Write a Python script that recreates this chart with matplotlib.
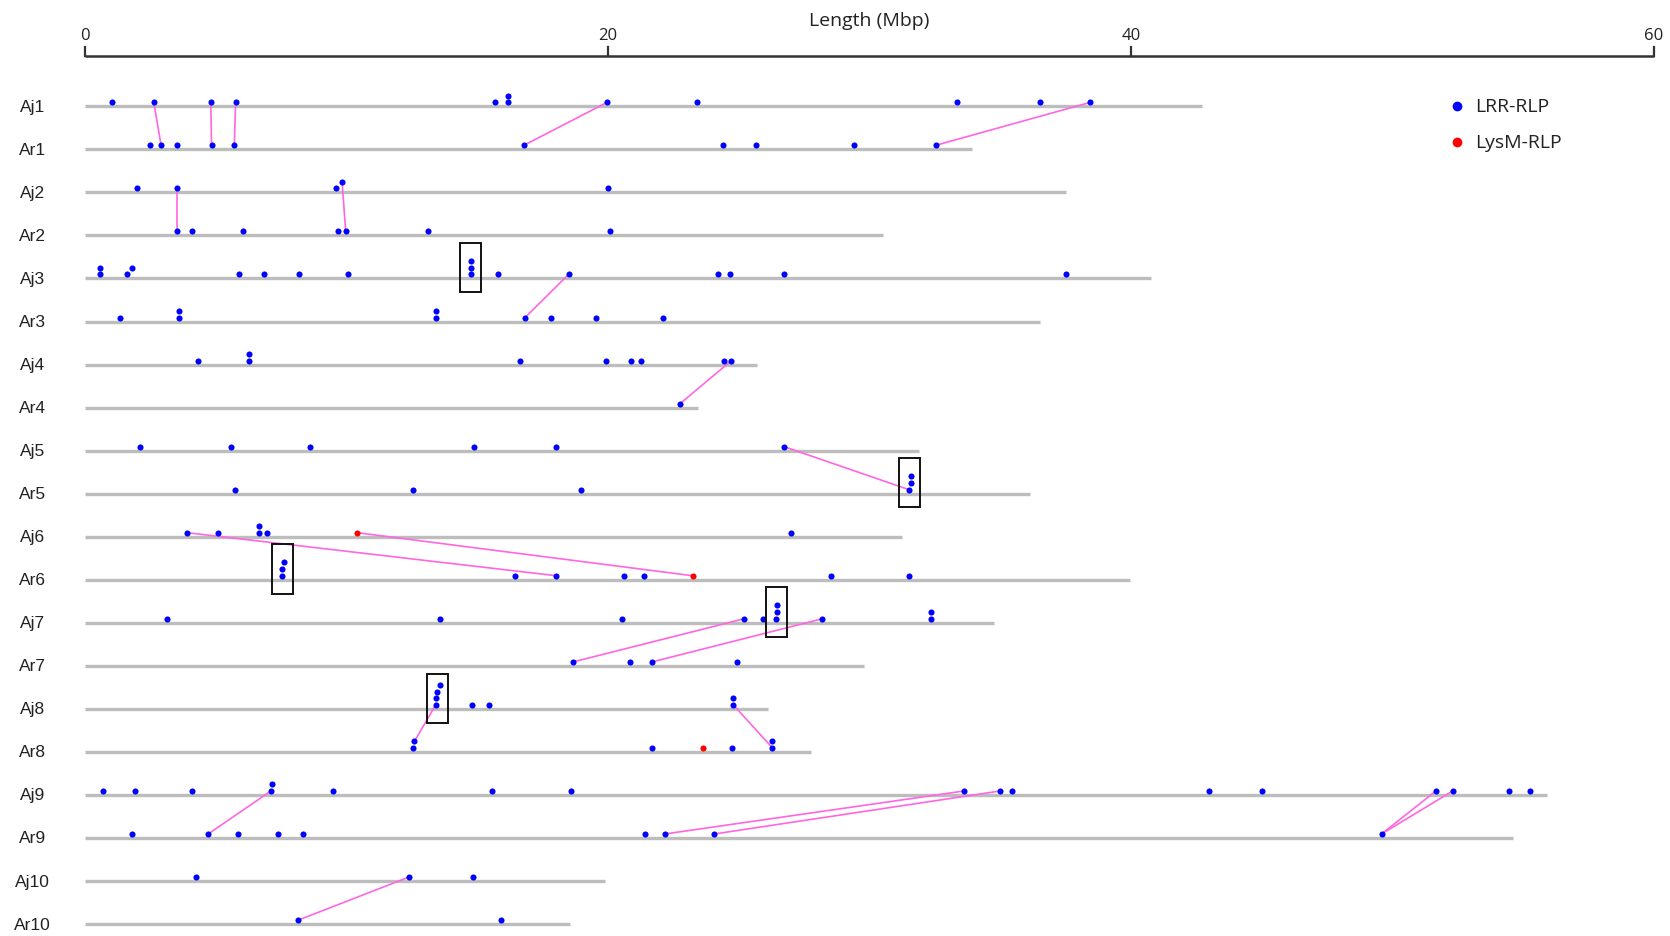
import matplotlib
matplotlib.use("Agg")
import matplotlib.pyplot as plt
from matplotlib.patches import Rectangle

# chromosome names and lengths (Mbp)
names = ["Aj1", "Ar1", "Aj2", "Ar2", "Aj3", "Ar3", "Aj4", "Ar4", "Aj5", "Ar5",
         "Aj6", "Ar6", "Aj7", "Ar7", "Aj8", "Ar8", "Aj9", "Ar9", "Aj10", "Ar10"]
lengths = [42.7, 33.9, 37.5, 30.5, 40.75, 36.5, 25.7, 23.45, 31.9, 36.15,
           31.25, 39.95, 34.75, 29.8, 26.1, 27.75, 55.9, 54.6, 19.9, 18.55]

# LRR-RLP gene positions (Mbp); repeated / very close values are stacked
aj1 = [1.03, 2.63, 4.81, 5.76, 15.66, 16.17, 16.17, 19.97, 23.4, 33.34, 36.5, 38.45]
ar1 = [2.47, 2.91, 3.50, 4.84, 5.71, 16.78, 24.38, 25.64, 29.42, 32.53]
aj2 = [1.99, 3.50, 9.6, 9.83, 20.01]
ar2 = [3.50, 4.08, 6.04, 9.66, 9.97, 13.10, 20.08]
aj3 = [0.59, 0.59, 1.59, 1.79, 5.90, 6.86, 8.17, 10.04, 14.75, 14.75, 14.75,
       15.79, 18.49, 24.2, 24.68, 26.72, 37.5]
ar3 = [1.34, 3.59, 3.59, 13.44, 13.44, 16.83, 17.81, 19.53, 22.11]
aj4 = [4.34, 6.28, 6.28, 16.63, 19.91, 20.89, 21.27, 24.43, 24.72]
ar4 = [22.76]
aj5 = [2.09, 5.60, 8.61, 14.87, 18.03, 26.73]
ar5 = [5.74, 12.56, 18.95, 31.51, 31.57, 31.57]
aj6 = [3.91, 5.08, 6.65, 6.65, 6.96, 26.98]
ar6 = [7.54, 7.54, 7.62, 16.45, 18.03, 20.6, 21.37, 28.51, 31.5]
aj7 = [3.13, 13.58, 20.53, 25.2, 25.93, 26.42, 26.48, 26.48, 28.19, 32.36, 32.36]
ar7 = [18.68, 20.84, 21.7, 24.95]
aj8 = [13.41, 13.44, 13.47, 13.58, 14.8, 15.45, 24.79, 24.79]
ar8 = [12.56, 12.6, 21.67, 24.74, 26.29, 26.29]
aj9 = [0.69, 1.93, 4.10, 7.11, 7.17, 9.48, 15.56, 18.6, 33.62, 35.0, 35.45,
       42.99, 44.99, 51.66, 52.3, 54.47, 55.25]
ar9 = [1.78, 4.71, 5.87, 7.37, 8.33, 21.41, 22.17, 24.06, 49.58]
aj10 = [4.24, 12.39, 14.82]
ar10 = [8.16, 15.89]
lrr_sites = [aj1, ar1, aj2, ar2, aj3, ar3, aj4, ar4, aj5, ar5,
             aj6, ar6, aj7, ar7, aj8, ar8, aj9, ar9, aj10, ar10]

# LysM-RLP genes
lysm_chrom = ["Aj6", "Ar6", "Ar8"]
lysm_pos = [10.41, 23.24, 23.63]

# syntenic links between Aj<n> and Ar<n>
link_chr = [1, 1, 1, 1, 1, 2, 2, 3, 4, 5, 6, 6, 7, 7, 8, 8, 9, 9, 9, 9, 9, 10]
link_aj = [2.63, 4.81, 5.76, 19.97, 38.45, 3.50, 9.83, 18.49, 24.72, 26.73,
           3.91, 10.41, 25.2, 28.19, 13.41, 24.79, 7.11, 33.62, 35.0, 51.66, 52.3, 12.39]
link_ar = [2.91, 4.84, 5.71, 16.78, 32.53, 3.50, 9.97, 16.83, 22.76, 31.51,
           18.03, 23.24, 18.68, 21.7, 12.6, 26.29, 4.71, 22.17, 24.06, 49.58, 49.58, 8.16]

# clusters highlighted with a box
box_chrom = ["Aj3", "Ar5", "Ar6", "Aj7", "Aj8"]
box_pos = [14.75, 31.54, 7.57, 26.45, 13.48]

ticks = [0, 20, 40, 60]

fig = plt.figure(figsize=(16.7, 9.37), dpi=100)
ax = fig.add_axes([0, 0, 1, 1])
ax.set_xlim(-3.25, 60.61)
ax.set_ylim(19.277, -2.493)
ax.axis("off")

row = {n: i for i, n in enumerate(names)}
dot_lift = 0.093
stack_step = 0.155

# chromosome bars and labels
for i, (n, L) in enumerate(zip(names, lengths)):
    ax.plot([0, L], [i, i], color="#bdbdbd", lw=2.4, solid_capstyle="butt", zorder=1)
    ax.text(-2.0, i, n, ha="center", va="center", fontsize=12.5,
            family="Liberation Sans", color="#222222")

# LRR dots, stacked when close together
dot_y = {}
for i, (n, sites) in enumerate(zip(names, lrr_sites)):
    prev = None
    level = 0
    xs, ys = [], []
    for p in sorted(sites):
        if prev is not None and p - prev <= 0.24:
            level += 1
        else:
            level = 0
        y = i - dot_lift - stack_step * level
        dot_y.setdefault((n, p), y)
        xs.append(p)
        ys.append(y)
        prev = p
    ax.plot(xs, ys, "o", color="#0000ff", ms=4.4, mew=0, zorder=4)

for n, p in zip(lysm_chrom, lysm_pos):
    y = row[n] - dot_lift
    dot_y[(n, p)] = y
    ax.plot(p, y, "o", color="#ff0000", ms=4.4, mew=0, zorder=4)

# links
for c, a, r in zip(link_chr, link_aj, link_ar):
    ka, kr = ("Aj%d" % c, a), ("Ar%d" % c, r)
    ax.plot([a, r], [dot_y[ka], dot_y[kr]], color="#ff66e0", lw=1.2, zorder=3)

# boxes around tandem clusters
for n, p in zip(box_chrom, box_pos):
    i = row[n]
    ax.add_patch(Rectangle((p - 0.4, i - 0.82), 0.8, 1.14, fill=False,
                           edgecolor="#111111", lw=1.4, zorder=5))

# top ruler
ax.plot([ticks[0], ticks[-1]], [-1.165, -1.165], color="#333333", lw=1.8,
        solid_capstyle="butt")
for t in ticks:
    ax.plot([t, t], [-1.165, -1.37], color="#333333", lw=1.6)
    ax.text(t, -1.66, str(t), ha="center", va="center", fontsize=12,
            family="Open Sans", color="#222222")
ax.text(30, -2.0, "Length (Mbp)", ha="center", va="center", fontsize=14,
        family="Open Sans", color="#222222")

# legend
ax.plot(52.47, 0.0, "o", color="#0000ff", ms=7, mew=0)
ax.plot(52.47, 0.83, "o", color="#ff0000", ms=7, mew=0)
ax.text(53.15, 0.0, "LRR-RLP", ha="left", va="center", fontsize=14,
        family="Open Sans", color="#222222")
ax.text(53.15, 0.83, "LysM-RLP", ha="left", va="center", fontsize=14,
        family="Open Sans", color="#222222")

fig.savefig("out.png", dpi=100)
